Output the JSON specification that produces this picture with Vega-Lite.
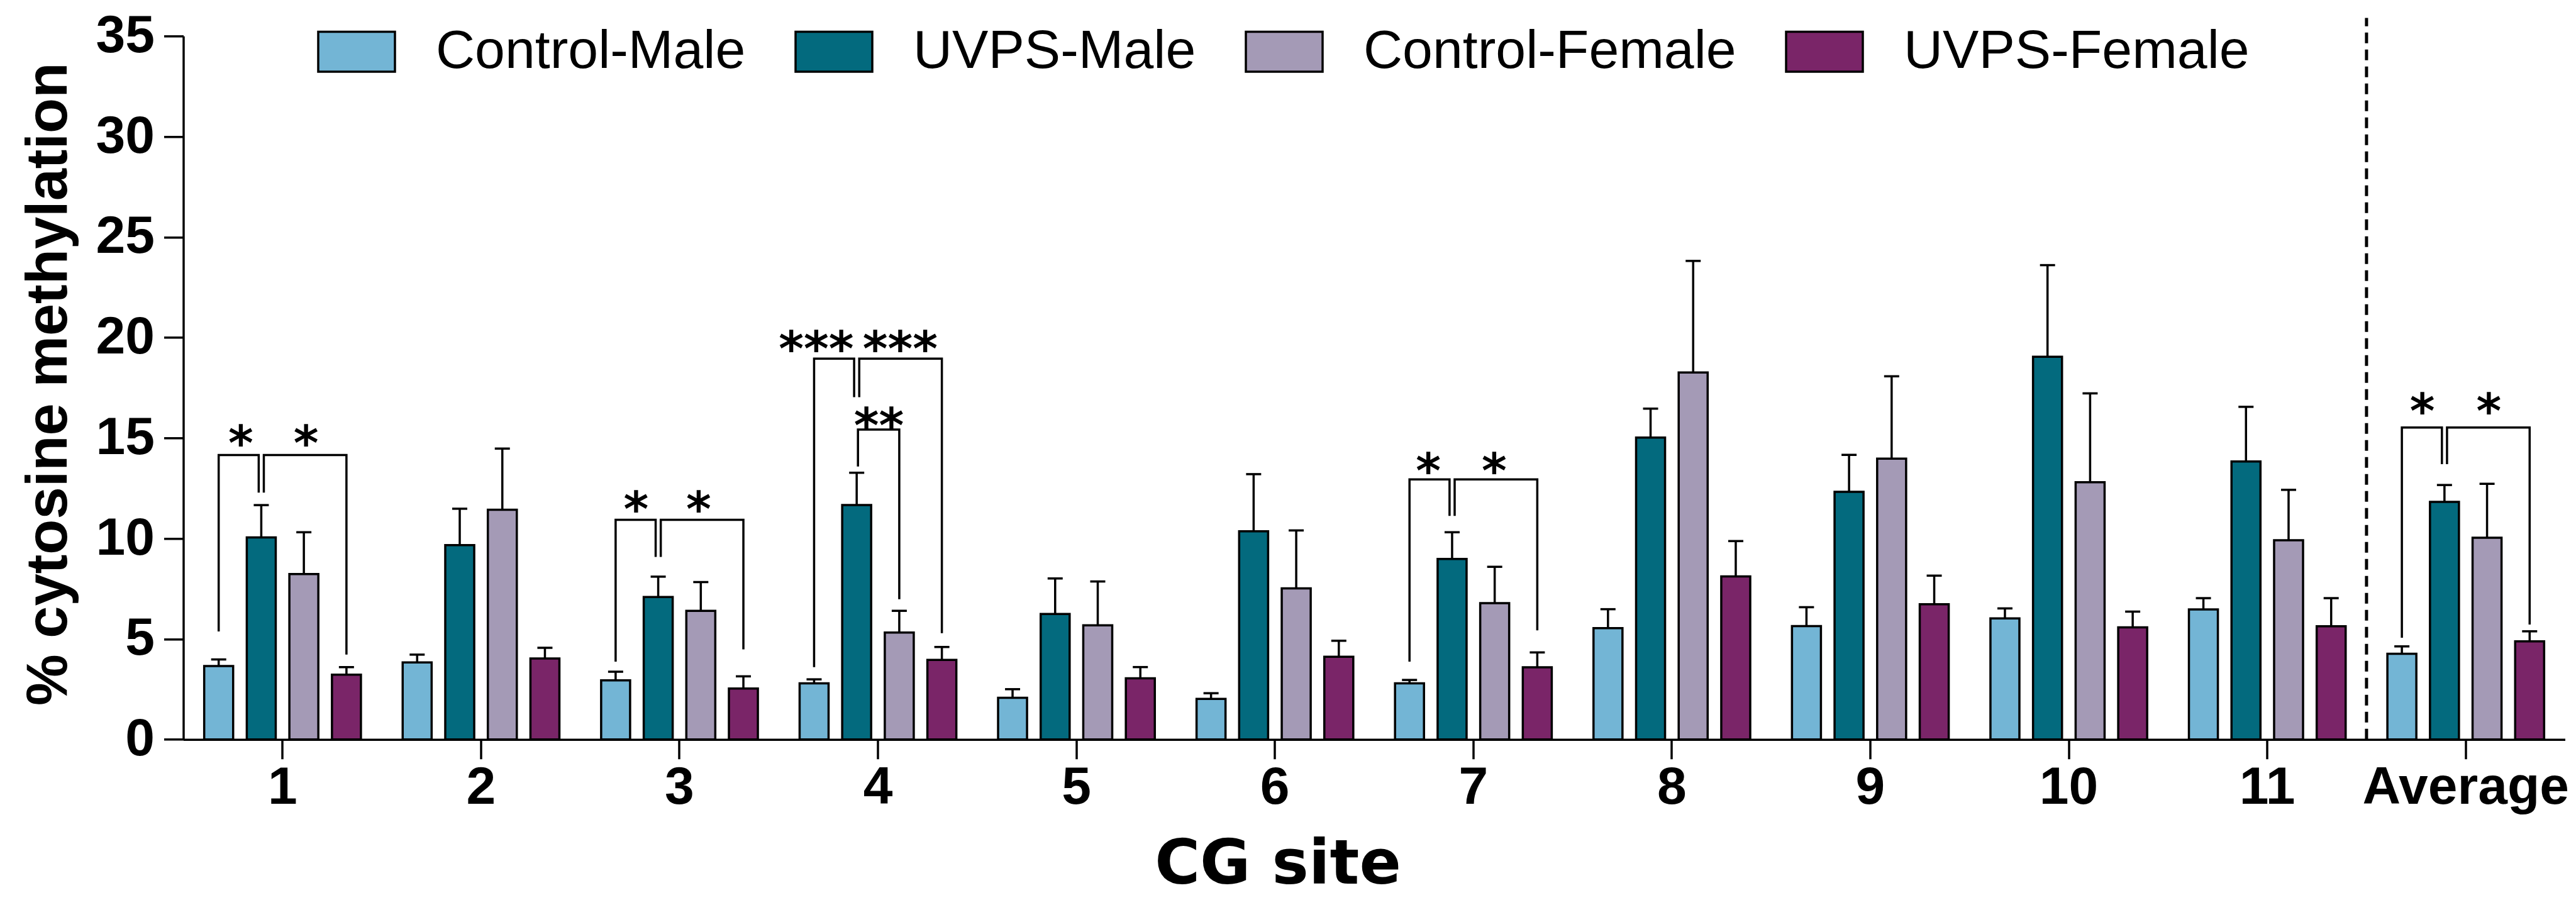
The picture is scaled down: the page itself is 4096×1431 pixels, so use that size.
{
  "$schema": "https://vega.github.io/schema/vega-lite/v6.json",
  "width": 3787,
  "height": 1118.4,
  "autosize": {"type": "none"},
  "padding": {"left": 291.5, "top": 57.3, "right": 17.5, "bottom": 255.3},
  "background": "white",
  "config": {
    "view": {"stroke": null},
    "axis": {
      "domainColor": "black", "domainWidth": 3.5,
      "tickColor": "black", "tickWidth": 3.5, "tickSize": 31,
      "labelFont": "Liberation Sans", "labelFontWeight": "bold", "labelColor": "black", "labelLimit": 1000,
      "titleFont": "Liberation Sans", "titleFontWeight": "bold", "titleColor": "black",
      "grid": false
    }
  },
  "datasets": {
    "bars": [
      {"site": "1", "group": "Control-Male", "value": 3.65, "err": 3.98},
      {"site": "1", "group": "UVPS-Male", "value": 10.05, "err": 11.66},
      {"site": "1", "group": "Control-Female", "value": 8.23, "err": 10.31},
      {"site": "1", "group": "UVPS-Female", "value": 3.22, "err": 3.6},
      {"site": "2", "group": "Control-Male", "value": 3.83, "err": 4.22},
      {"site": "2", "group": "UVPS-Male", "value": 9.67, "err": 11.48},
      {"site": "2", "group": "Control-Female", "value": 11.43, "err": 14.47},
      {"site": "2", "group": "UVPS-Female", "value": 4.03, "err": 4.56},
      {"site": "3", "group": "Control-Male", "value": 2.94, "err": 3.37},
      {"site": "3", "group": "UVPS-Male", "value": 7.09, "err": 8.1},
      {"site": "3", "group": "Control-Female", "value": 6.4, "err": 7.83},
      {"site": "3", "group": "UVPS-Female", "value": 2.53, "err": 3.14},
      {"site": "4", "group": "Control-Male", "value": 2.79, "err": 2.99},
      {"site": "4", "group": "UVPS-Male", "value": 11.66, "err": 13.27},
      {"site": "4", "group": "Control-Female", "value": 5.32, "err": 6.4},
      {"site": "4", "group": "UVPS-Female", "value": 3.96, "err": 4.6},
      {"site": "5", "group": "Control-Male", "value": 2.07, "err": 2.5},
      {"site": "5", "group": "UVPS-Male", "value": 6.24, "err": 8.01},
      {"site": "5", "group": "Control-Female", "value": 5.68, "err": 7.86},
      {"site": "5", "group": "UVPS-Female", "value": 3.04, "err": 3.6},
      {"site": "6", "group": "Control-Male", "value": 2.02, "err": 2.3},
      {"site": "6", "group": "UVPS-Male", "value": 10.36, "err": 13.2},
      {"site": "6", "group": "Control-Female", "value": 7.52, "err": 10.4},
      {"site": "6", "group": "UVPS-Female", "value": 4.11, "err": 4.91},
      {"site": "7", "group": "Control-Male", "value": 2.79, "err": 2.96},
      {"site": "7", "group": "UVPS-Male", "value": 8.98, "err": 10.31},
      {"site": "7", "group": "Control-Female", "value": 6.78, "err": 8.59},
      {"site": "7", "group": "UVPS-Female", "value": 3.59, "err": 4.33},
      {"site": "8", "group": "Control-Male", "value": 5.54, "err": 6.48},
      {"site": "8", "group": "UVPS-Male", "value": 15.02, "err": 16.46},
      {"site": "8", "group": "Control-Female", "value": 18.26, "err": 23.81},
      {"site": "8", "group": "UVPS-Female", "value": 8.11, "err": 9.87},
      {"site": "9", "group": "Control-Male", "value": 5.64, "err": 6.58},
      {"site": "9", "group": "UVPS-Male", "value": 12.32, "err": 14.16},
      {"site": "9", "group": "Control-Female", "value": 13.97, "err": 18.07},
      {"site": "9", "group": "UVPS-Female", "value": 6.73, "err": 8.15},
      {"site": "10", "group": "Control-Male", "value": 6.02, "err": 6.52},
      {"site": "10", "group": "UVPS-Male", "value": 19.04, "err": 23.6},
      {"site": "10", "group": "Control-Female", "value": 12.8, "err": 17.22},
      {"site": "10", "group": "UVPS-Female", "value": 5.58, "err": 6.36},
      {"site": "11", "group": "Control-Male", "value": 6.47, "err": 7.03},
      {"site": "11", "group": "UVPS-Male", "value": 13.83, "err": 16.55},
      {"site": "11", "group": "Control-Female", "value": 9.91, "err": 12.42},
      {"site": "11", "group": "UVPS-Female", "value": 5.63, "err": 7.03},
      {"site": "Average", "group": "Control-Male", "value": 4.26, "err": 4.63},
      {"site": "Average", "group": "UVPS-Male", "value": 11.82, "err": 12.66},
      {"site": "Average", "group": "Control-Female", "value": 10.04, "err": 12.72},
      {"site": "Average", "group": "UVPS-Female", "value": 4.88, "err": 5.38}
    ],
    "brackets": [
      {"site": "1", "bid": "b1", "pt": 1, "pos": 0, "y": 5.37},
      {"site": "1", "bid": "b1", "pt": 2, "pos": 0, "y": 14.15},
      {"site": "1", "bid": "b1", "pt": 3, "pos": 0.94, "y": 14.15},
      {"site": "1", "bid": "b1", "pt": 4, "pos": 0.94, "y": 12.28},
      {"site": "1", "bid": "b2", "pt": 1, "pos": 1.06, "y": 12.28},
      {"site": "1", "bid": "b2", "pt": 2, "pos": 1.06, "y": 14.15},
      {"site": "1", "bid": "b2", "pt": 3, "pos": 3, "y": 14.15},
      {"site": "1", "bid": "b2", "pt": 4, "pos": 3, "y": 4.22},
      {"site": "3", "bid": "b3", "pt": 1, "pos": 0, "y": 3.87},
      {"site": "3", "bid": "b3", "pt": 2, "pos": 0, "y": 10.93},
      {"site": "3", "bid": "b3", "pt": 3, "pos": 0.94, "y": 10.93},
      {"site": "3", "bid": "b3", "pt": 4, "pos": 0.94, "y": 9.08},
      {"site": "3", "bid": "b4", "pt": 1, "pos": 1.06, "y": 9.08},
      {"site": "3", "bid": "b4", "pt": 2, "pos": 1.06, "y": 10.93},
      {"site": "3", "bid": "b4", "pt": 3, "pos": 3, "y": 10.93},
      {"site": "3", "bid": "b4", "pt": 4, "pos": 3, "y": 4.48},
      {"site": "4", "bid": "b5", "pt": 1, "pos": 0, "y": 3.6},
      {"site": "4", "bid": "b5", "pt": 2, "pos": 0, "y": 18.95},
      {"site": "4", "bid": "b5", "pt": 3, "pos": 0.94, "y": 18.95},
      {"site": "4", "bid": "b5", "pt": 4, "pos": 0.94, "y": 17.03},
      {"site": "4", "bid": "b6", "pt": 1, "pos": 1.06, "y": 17.03},
      {"site": "4", "bid": "b6", "pt": 2, "pos": 1.06, "y": 18.95},
      {"site": "4", "bid": "b6", "pt": 3, "pos": 3, "y": 18.95},
      {"site": "4", "bid": "b6", "pt": 4, "pos": 3, "y": 5.29},
      {"site": "4", "bid": "b7", "pt": 1, "pos": 1.03, "y": 13.58},
      {"site": "4", "bid": "b7", "pt": 2, "pos": 1.03, "y": 15.42},
      {"site": "4", "bid": "b7", "pt": 3, "pos": 2, "y": 15.42},
      {"site": "4", "bid": "b7", "pt": 4, "pos": 2, "y": 6.98},
      {"site": "7", "bid": "b8", "pt": 1, "pos": 0, "y": 3.87},
      {"site": "7", "bid": "b8", "pt": 2, "pos": 0, "y": 12.94},
      {"site": "7", "bid": "b8", "pt": 3, "pos": 0.94, "y": 12.94},
      {"site": "7", "bid": "b8", "pt": 4, "pos": 0.94, "y": 11.12},
      {"site": "7", "bid": "b9", "pt": 1, "pos": 1.06, "y": 11.12},
      {"site": "7", "bid": "b9", "pt": 2, "pos": 1.06, "y": 12.94},
      {"site": "7", "bid": "b9", "pt": 3, "pos": 3, "y": 12.94},
      {"site": "7", "bid": "b9", "pt": 4, "pos": 3, "y": 5.43},
      {"site": "Average", "bid": "b10", "pt": 1, "pos": 0, "y": 5.06},
      {"site": "Average", "bid": "b10", "pt": 2, "pos": 0, "y": 15.52},
      {"site": "Average", "bid": "b10", "pt": 3, "pos": 0.94, "y": 15.52},
      {"site": "Average", "bid": "b10", "pt": 4, "pos": 0.94, "y": 13.7},
      {"site": "Average", "bid": "b11", "pt": 1, "pos": 1.06, "y": 13.7},
      {"site": "Average", "bid": "b11", "pt": 2, "pos": 1.06, "y": 15.52},
      {"site": "Average", "bid": "b11", "pt": 3, "pos": 3, "y": 15.52},
      {"site": "Average", "bid": "b11", "pt": 4, "pos": 3, "y": 5.72}
    ],
    "stars": [
      {"site": "1", "pos": 0.52, "y": 15.34, "label": "*"},
      {"site": "1", "pos": 2.05, "y": 15.34, "label": "*"},
      {"site": "3", "pos": 0.48, "y": 12.05, "label": "*"},
      {"site": "3", "pos": 1.95, "y": 12.05, "label": "*"},
      {"site": "4", "pos": 0.05, "y": 20.03, "label": "***"},
      {"site": "4", "pos": 2.02, "y": 20.03, "label": "***"},
      {"site": "4", "pos": 1.52, "y": 16.2, "label": "**"},
      {"site": "7", "pos": 0.44, "y": 13.96, "label": "*"},
      {"site": "7", "pos": 1.99, "y": 13.96, "label": "*"},
      {"site": "Average", "pos": 0.48, "y": 16.92, "label": "*"},
      {"site": "Average", "pos": 2.04, "y": 16.92, "label": "*"}
    ]
  },
  "layer": [
    {
      "data": {"name": "bars"},
      "mark": {"type": "bar", "stroke": "black", "strokeWidth": 3.5},
      "encoding": {
        "x": {
          "field": "site", "type": "nominal", "title": "CG site",
          "scale": {"domain": ["1", "2", "3", "4", "5", "6", "7", "8", "9", "10", "11", "Average"], "paddingInner": 0, "paddingOuter": 0},
          "axis": {"labelAngle": 0, "labelFontSize": 84, "labelPadding": 5, "titleFont": "DejaVu Sans", "titleFontSize": 98, "titleX": 1740, "titleY": 229, "titleBaseline": "alphabetic", "titleAlign": "center"}
        },
        "xOffset": {
          "field": "group", "type": "nominal",
          "scale": {"domain": ["Control-Male", "UVPS-Male", "Control-Female", "UVPS-Female"], "paddingInner": 0.32, "paddingOuter": 0.49}
        },
        "y": {
          "field": "value", "type": "quantitative", "title": "% cytosine methylation",
          "scale": {"domain": [0, 35], "nice": false},
          "axis": {"values": [0, 5, 10, 15, 20, 25, 30, 35], "labelFontSize": 84, "labelPadding": 15, "titleFontSize": 92, "titleAngle": -90, "titleX": -214.5, "titleY": 553, "titleBaseline": "middle", "titleAlign": "center"}
        },
        "fill": {
          "field": "group", "type": "nominal",
          "scale": {"domain": ["Control-Male", "UVPS-Male", "Control-Female", "UVPS-Female"], "range": ["#73b5d5", "#036a7e", "#a49ab6", "#7a2568"]},
          "legend": {
            "orient": "none", "legendX": 212.5, "legendY": -38, "direction": "horizontal", "title": null,
            "symbolType": "M-1,-0.52H1V0.52H-1Z", "symbolSize": 14884,
            "symbolStrokeColor": "black", "symbolStrokeWidth": 3.5, "symbolOpacity": 1,
            "labelFont": "Liberation Sans", "labelFontSize": 86, "labelColor": "black",
            "labelOffset": 63, "columnPadding": 72, "labelLimit": 2000
          }
        }
      }
    },
    {
      "data": {"name": "bars"},
      "mark": {"type": "rule", "color": "black", "strokeWidth": 3.5},
      "encoding": {
        "x": {"field": "site", "type": "nominal"},
        "xOffset": {"field": "group", "type": "nominal", "scale": {"domain": ["Control-Male", "UVPS-Male", "Control-Female", "UVPS-Female"], "paddingInner": 0.32, "paddingOuter": 0.49}},
        "y": {"field": "value", "type": "quantitative"},
        "y2": {"field": "err"}
      }
    },
    {
      "data": {"name": "bars"},
      "mark": {"type": "tick", "color": "black", "thickness": 3.5, "size": 24, "orient": "horizontal", "opacity": 1},
      "encoding": {
        "x": {"field": "site", "type": "nominal"},
        "xOffset": {"field": "group", "type": "nominal", "scale": {"domain": ["Control-Male", "UVPS-Male", "Control-Female", "UVPS-Female"], "paddingInner": 0.32, "paddingOuter": 0.49}},
        "y": {"field": "err", "type": "quantitative"}
      }
    },
    {
      "data": {"name": "brackets"},
      "mark": {"type": "line", "color": "black", "strokeWidth": 3.5, "strokeCap": "butt", "strokeJoin": "miter"},
      "encoding": {
        "x": {"field": "site", "type": "nominal"},
        "xOffset": {"field": "pos", "type": "quantitative", "scale": {"domain": [-0.83, 3.83], "nice": false, "zero": false}},
        "y": {"field": "y", "type": "quantitative"},
        "detail": {"field": "bid"},
        "order": {"field": "pt"}
      }
    },
    {
      "data": {"name": "stars"},
      "mark": {"type": "text", "font": "DejaVu Sans", "fontWeight": "bold", "fontSize": 76, "baseline": "middle", "align": "center", "dy": 22, "color": "black"},
      "encoding": {
        "x": {"field": "site", "type": "nominal"},
        "xOffset": {"field": "pos", "type": "quantitative", "scale": {"domain": [-0.83, 3.83], "nice": false, "zero": false}},
        "y": {"field": "y", "type": "quantitative"},
        "text": {"field": "label"}
      }
    },
    {
      "data": {"values": [{}]},
      "mark": {"type": "rule", "strokeDash": [17, 10], "strokeWidth": 5, "color": "black"},
      "encoding": {
        "x": {"datum": "11", "type": "nominal", "bandPosition": 1},
        "y": {"datum": 0, "type": "quantitative"},
        "y2": {"datum": 35.9}
      }
    }
  ],
  "resolve": {"scale": {"xOffset": "independent"}}
}
